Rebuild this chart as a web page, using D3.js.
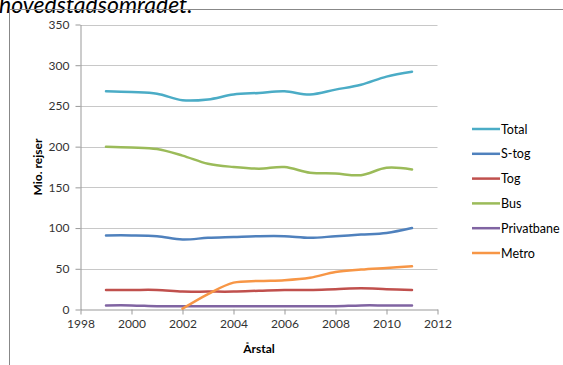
<!DOCTYPE html>
<html>
<head>
<meta charset="utf-8">
<script src="https://cdn.jsdelivr.net/npm/d3@7"></script>
<style>
  html, body { margin: 0; padding: 0; background: #fff; }
  svg { display: block; }
</style>
</head>
<body>
<svg id="chart" width="563" height="365"></svg>
<script>
// Passenger journeys (million) per mode of transport, 1999–2011
const years = [1999, 2000, 2001, 2002, 2003, 2004, 2005, 2006, 2007, 2008, 2009, 2010, 2011];
const total      = [268, 267, 265, 257, 258, 264, 266, 268, 264, 270, 276, 286, 292];
const sTog       = [91, 91, 90, 86, 88, 89, 90, 90, 88, 90, 92, 94, 100];
const tog        = [24, 24, 24, 22, 22, 22, 23, 24, 24, 25, 26, 25, 24];
const bus        = [200, 199, 197, 189, 179, 175, 173, 175, 168, 167, 165, 174, 172];
const privatbane = [5, 5, 4, 4, 4, 4, 4, 4, 4, 4, 5, 5, 5];
const metro      = [null, null, null, 1, 19, 33, 35, 36, 39, 46, 49, 51, 53];
const seriesNames = ["Total", "S-tog", "Tog", "Bus", "Privatbane", "Metro"];
const seriesColors = ["#4BACC6", "#4F81BD", "#C0504D", "#9BBB59", "#8064A2", "#F79646"];
const yTicks = [0, 50, 100, 150, 200, 250, 300, 350];
const xTicks = [1998, 2000, 2002, 2004, 2006, 2008, 2010, 2012];

const seriesValues = [total, sTog, tog, bus, privatbane, metro];

const svg = d3.select("#chart");
const font = "Lato, 'Open Sans', sans-serif";

// Heading text running above the frame
svg.append("text")
  .attr("x", -1).attr("y", 13)
  .attr("font-family", font)
  .attr("font-style", "italic")
  .attr("font-size", 23)
  .attr("fill", "#000")
  .text("hovedstadsområdet.");

// Frame (top and left edges)
svg.append("path")
  .attr("d", "M9.5,365 V9.5 H563")
  .attr("fill", "none")
  .attr("stroke", "#888")
  .attr("stroke-width", 1);

const x = d3.scaleLinear().domain([1998, 2012]).range([80.5, 437.5]);
const y = d3.scaleLinear().domain([0, 350]).range([309.5, 24.5]);

// Horizontal gridlines
svg.append("g")
  .selectAll("line")
  .data(yTicks.filter(d => d > 0))
  .join("line")
  .attr("x1", x.range()[0]).attr("x2", x.range()[1])
  .attr("y1", d => Math.round(y(d)) + 0.5).attr("y2", d => Math.round(y(d)) + 0.5)
  .attr("stroke", "#c8c8c8")
  .attr("stroke-width", 1);

// Y axis
const yAxis = svg.append("g")
  .attr("transform", `translate(${x.range()[0]},0)`)
  .call(d3.axisLeft(y).tickValues(yTicks).tickSize(5).tickSizeOuter(0).tickPadding(6));
yAxis.select(".domain").attr("stroke", "#999");
yAxis.selectAll(".tick line").attr("stroke", "#999");
yAxis.selectAll("text").attr("font-family", font).attr("font-size", 12).attr("fill", "#333");

// X axis
const xAxis = svg.append("g")
  .attr("transform", `translate(0,${y(0)})`)
  .call(d3.axisBottom(x).tickValues(xTicks).tickFormat(d3.format("d")).tickSize(5).tickSizeOuter(0).tickPadding(5));
xAxis.select(".domain").attr("stroke", "#999");
xAxis.selectAll(".tick line").attr("stroke", "#999");
xAxis.selectAll("text").attr("font-family", font).attr("font-size", 12).attr("fill", "#333");

// Axis titles
svg.append("text")
  .attr("transform", `translate(42,${(y.range()[0] + y.range()[1]) / 2}) rotate(-90)`)
  .attr("text-anchor", "middle")
  .attr("font-family", font).attr("font-size", 12).attr("font-weight", "bold")
  .attr("fill", "#000")
  .text("Mio. rejser");

svg.append("text")
  .attr("x", (x.range()[0] + x.range()[1]) / 2).attr("y", 353)
  .attr("text-anchor", "middle")
  .attr("font-family", font).attr("font-size", 12).attr("font-weight", "bold")
  .attr("fill", "#000")
  .text("Årstal");

// Smoothed series lines
const line = d3.line()
  .defined(d => d.v !== null)
  .x(d => x(d.year))
  .y(d => y(d.v))
  .curve(d3.curveCatmullRom.alpha(0.5));

seriesValues.forEach((vals, i) => {
  const pts = years.map((yr, j) => ({ year: yr, v: vals[j] }));
  svg.append("path")
    .datum(pts)
    .attr("d", line)
    .attr("fill", "none")
    .attr("stroke", seriesColors[i])
    .attr("stroke-width", 2.5)
    .attr("stroke-linecap", "round");
});

// Legend
const legend = svg.append("g").attr("transform", "translate(472,129)");
seriesNames.forEach((name, i) => {
  const g = legend.append("g").attr("transform", `translate(0,${i * 24.8})`);
  g.append("line")
    .attr("x1", 0).attr("x2", 28).attr("y1", 0).attr("y2", 0)
    .attr("stroke", seriesColors[i]).attr("stroke-width", 2.5);
  g.append("text")
    .attr("x", 29).attr("y", 4.5)
    .attr("font-family", font).attr("font-size", 12.5)
    .attr("fill", "#000")
    .text(name);
});
</script>
</body>
</html>
